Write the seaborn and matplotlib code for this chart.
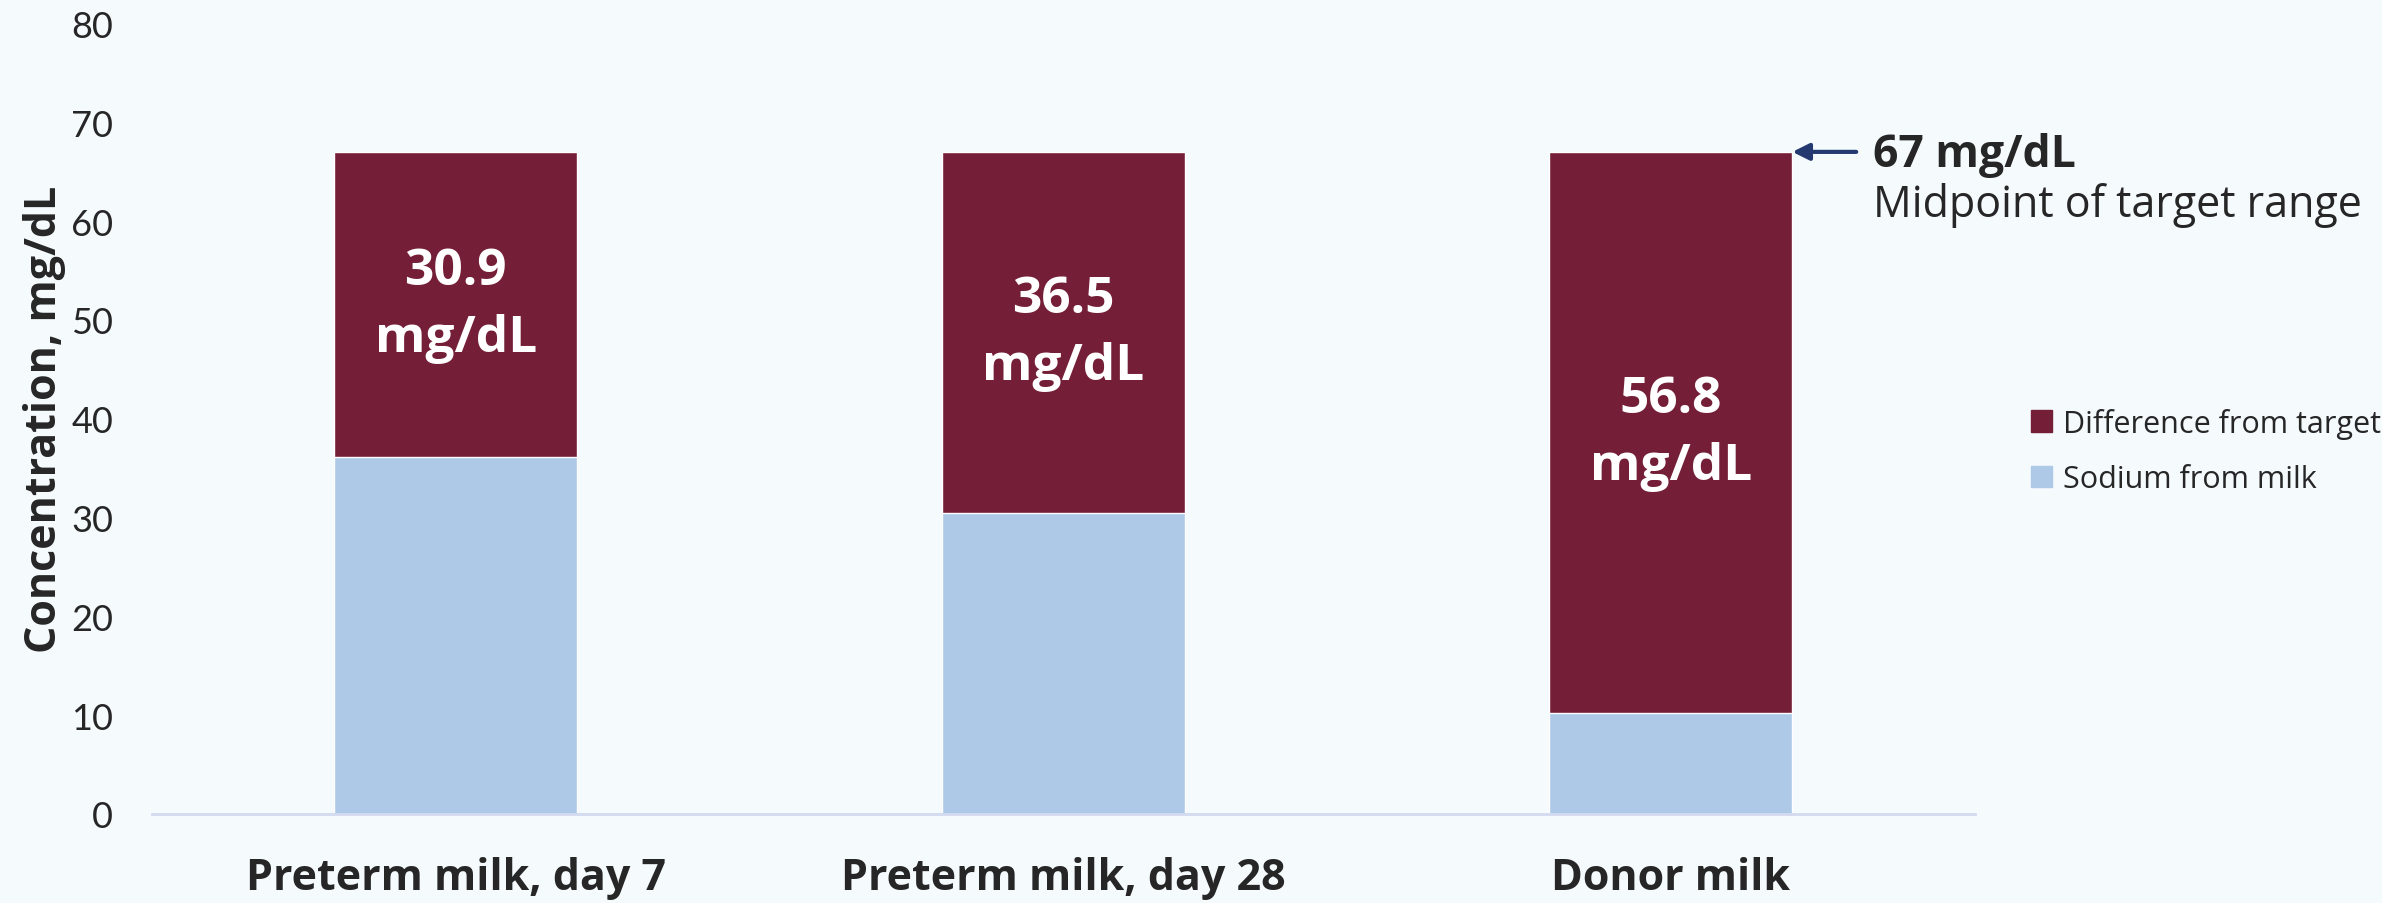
import pandas as pd
import matplotlib.pyplot as plt
import seaborn as sns
from matplotlib.patches import Patch

# Data
categories = ['Preterm milk, day 7', 'Preterm milk, day 28', 'Donor milk']
target = 67
difference = [30.9, 36.5, 56.8]
sodium = [round(target - d, 1) for d in difference]

maroon = '#741F37'
light_blue = '#AEC8E8'
bg = '#F5FAFD'

df = pd.DataFrame({'Milk': categories, 'Sodium': sodium, 'Difference': difference})
df['Total'] = df['Sodium'] + df['Difference']

sns.set_theme(style='white')
plt.rcParams['font.family'] = ['Open Sans', 'DejaVu Sans']

fig = plt.figure(figsize=(23.82, 9.04), dpi=100, facecolor=bg)
ax = fig.add_axes([0.0638, 0.0985, 0.7652, 0.8745])
ax.set_facecolor(bg)

# stacked bars: total in maroon, sodium drawn over it
sns.barplot(data=df, x='Milk', y='Total', color=maroon, width=0.4, saturation=1, ax=ax)
sns.barplot(data=df, x='Milk', y='Sodium', color=light_blue, width=0.4, saturation=1, ax=ax)

for i, (s, d) in enumerate(zip(sodium, difference)):
    ax.text(i, s + d / 2, f'{d}\nmg/dL', ha='center', va='center', color='white',
            fontsize=37, fontweight='bold', linespacing=1.45)

ax.set_xlim(-0.5, 2.5)
ax.set_ylim(0, 80)
ax.set_yticks(range(0, 81, 10))
ax.tick_params(axis='y', labelsize=26, pad=28, length=0)
ax.tick_params(axis='x', labelsize=31, pad=30, length=0)
for lbl in ax.get_yticklabels():
    lbl.set_fontfamily('Lato')
for lbl in ax.get_xticklabels():
    lbl.set_fontweight('bold')

ax.set_xlabel('')
ax.set_ylabel('Concentration, mg/dL', fontsize=31, fontweight='bold', labelpad=4)
ax.yaxis.set_label_coords(-0.047, 0.5)

for side in ['top', 'right', 'left']:
    ax.spines[side].set_visible(False)
ax.spines['bottom'].set_color('#D3DAF0')
ax.spines['bottom'].set_linewidth(2)

# target annotation
ax.annotate('', xy=(2.2, target), xytext=(2.305, target),
            arrowprops=dict(arrowstyle='-|>', color='#23396F', lw=3, mutation_scale=25,
                            shrinkA=0, shrinkB=0),
            annotation_clip=False)
ax.text(2.333, 66.7, '67 mg/dL', fontsize=32, fontweight='bold', va='center', ha='left')
ax.text(2.333, 61.7, 'Midpoint of target range', fontsize=31, va='center', ha='left')

handles = [Patch(color=maroon, label='Difference from target'),
           Patch(color=light_blue, label='Sodium from milk')]
fig.legend(handles=handles, loc='center left', bbox_to_anchor=(0.841, 0.5), frameon=False,
           fontsize=22, handlelength=0.7, handleheight=0.7, handletextpad=0.35,
           labelspacing=0.85)

fig.savefig('out.png', dpi=100, facecolor=bg)
